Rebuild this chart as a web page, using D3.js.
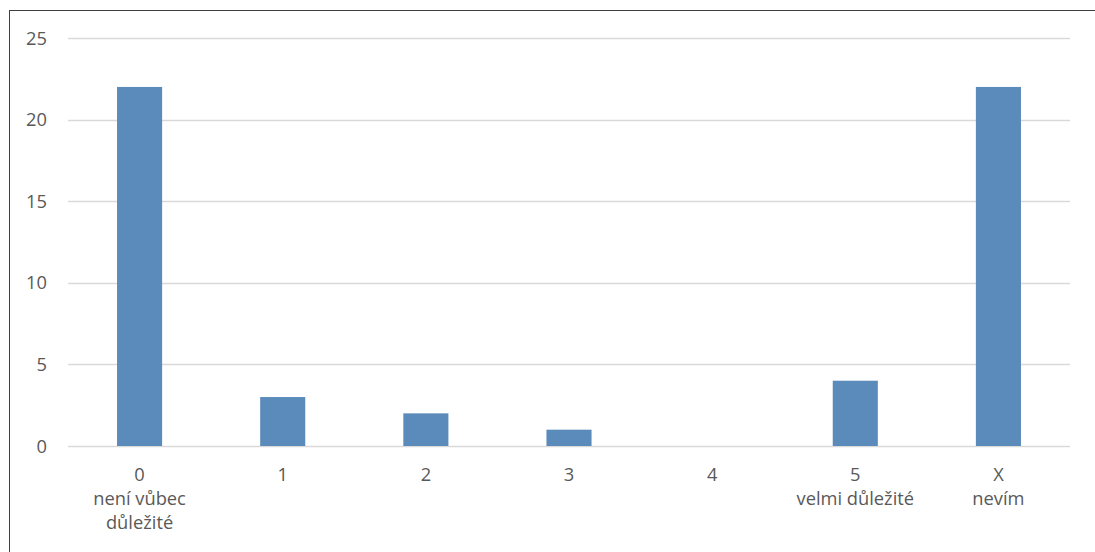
<!DOCTYPE html>
<html><head><meta charset="utf-8">
<script src="https://cdn.jsdelivr.net/npm/d3@7"></script>
<style>body{margin:0;background:#fff;} svg{display:block;}</style>
</head><body>
<svg id="c" width="1095" height="552"></svg>
<script>
const categories = ["0","1","2","3","4","5","X"];
const subLabels = [["není vůbec","důležité"],[],[],[],[],["velmi důležité"],["nevím"]];
const values = [22,3,2,1,0,4,22];
const yTicks = [0,5,10,15,20,25];

(function(){
const svg = d3.select("#c");
svg.append("rect").attr("x",9.5).attr("y",10.5).attr("width",1100).attr("height",560)
  .attr("fill","#fff").attr("stroke","#404040").attr("stroke-width",1);

const pLeft=68, pRight=1070, pTop=38, pBottom=446;
const x = d3.scaleBand().domain(categories).range([pLeft,pRight]).paddingInner(0.685).paddingOuter(0.3425);
const y = d3.scaleLinear().domain([0,25]).range([pBottom,pTop]);

const font = "Open Sans, Liberation Sans, sans-serif";
const fs = 18.3;
svg.append("g").selectAll("line").data(yTicks).join("line")
  .attr("x1",pLeft).attr("x2",pRight).attr("y1",d=>Math.round(y(d))+0.5).attr("y2",d=>Math.round(y(d))+0.5)
  .attr("stroke","#d9d9d9").attr("stroke-width",1.3);

svg.append("g").selectAll("text").data(yTicks).join("text")
  .attr("x",47).attr("y",d=>y(d)).attr("dy","0.36em").attr("text-anchor","end")
  .attr("font-family",font).attr("font-size",fs).attr("fill","#595959").text(d=>d);

svg.append("g").selectAll("rect").data(values).join("rect")
  .attr("x",(d,i)=>x(categories[i])).attr("width",x.bandwidth())
  .attr("y",d=>y(d)).attr("height",d=>y(0)-y(d)).attr("fill","#5b8bbb");

const lab = svg.append("g");
categories.forEach((c,i)=>{
  const cx = x(c)+x.bandwidth()/2;
  const lines=[c].concat(subLabels[i]);
  lines.forEach((t,j)=>{
    lab.append("text").attr("x",cx).attr("y",481+j*24).attr("text-anchor","middle")
      .attr("font-family",font).attr("font-size",fs).attr("fill","#595959").text(t);
  });
});
})();
</script>
</body></html>
